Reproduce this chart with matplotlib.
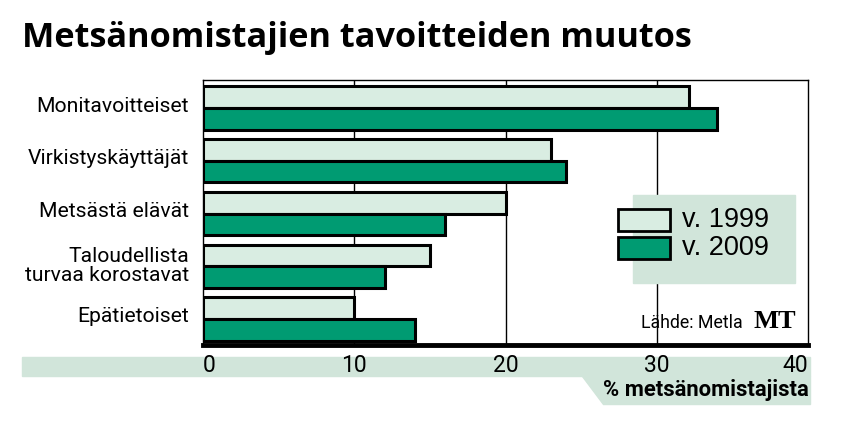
import matplotlib
matplotlib.use("Agg")
import matplotlib.pyplot as plt
from matplotlib.patches import Polygon, Rectangle
import numpy as np

categories = ["Monitavoitteiset", "Virkistyskäyttäjät", "Metsästä elävät",
              "Taloudellista\nturvaa korostavat", "Epätietoiset"]
v1999 = [32.1, 23.0, 20.0, 15.0, 10.0]
v2009 = [34.0, 24.0, 16.0, 12.0, 14.0]
xticks = [0, 10, 20, 30, 40]
series_labels = ["v. 1999", "v. 2009"]

light = "#d9ede2"
dark = "#009b72"
band = "#d1e5da"
narrow = ["Roboto", "DejaVu Sans"]

fig = plt.figure(figsize=(8.61, 4.22), dpi=100)
W, H = 861, 422


def fx(px):
    return px / W


def fy(py):
    return 1 - py / H


ax = fig.add_axes([fx(203), fy(345), fx(808) - fx(203), fy(80) - fy(345)])
y = np.arange(len(categories))
h = 0.41
ax.barh(y - h / 2, v1999, height=h, color=light, edgecolor="black", linewidth=2.2, zorder=3)
ax.barh(y + h / 2, v2009, height=h, color=dark, edgecolor="black", linewidth=2.2, zorder=3)
ax.set_xlim(0, 40)
ax.set_ylim(4.49, -0.53)
for t in xticks[1:-1]:
    ax.axvline(t, color="black", linewidth=1.0, zorder=1)
ax.set_xticks([])
ax.set_yticks([])
for s in ["left", "right", "top"]:
    ax.spines[s].set_linewidth(1.0)
ax.spines["bottom"].set_linewidth(3.5)

# category labels
for i, c in enumerate(categories):
    yp = 106 + i * 52.75 if i != 3 else 266
    fig.text(fx(189), fy(yp), c, ha="right", va="center",
             fontsize=15.2, family=narrow, linespacing=1.0)

# title
fig.text(fx(22), fy(38), "Metsänomistajien tavoitteiden muutos", fontsize=24.7,
         fontweight="bold", family=["Open Sans", "DejaVu Sans"], va="center", ha="left")

# axis band
fig.patches.append(Rectangle((fx(22), fy(376)), fx(810) - fx(22), fy(357) - fy(376),
                             transform=fig.transFigure, color=band, zorder=0))
fig.patches.append(Polygon([(fx(582), fy(376)), (fx(810), fy(376)), (fx(810), fy(404)),
                            (fx(603), fy(404))], closed=True, transform=fig.transFigure,
                           color=band, zorder=0))
for t in xticks:
    xp = 203 + t * (808 - 203) / 40
    ha = "center"
    if t == xticks[0]:
        ha = "left"
    elif t == xticks[-1]:
        ha = "right"
    fig.text(fx(xp), fy(366), str(t), ha=ha, va="center", fontsize=16.5, family=narrow)
fig.text(fx(809), fy(390), "% metsänomistajista", ha="right", va="center", fontsize=15.8,
         fontweight="bold", family=narrow)

# legend box
fig.patches.append(Rectangle((fx(633), fy(283)), fx(795) - fx(633), fy(195) - fy(283),
                             transform=fig.transFigure, color=band, zorder=5))
for k, (col, lab) in enumerate(zip([light, dark], series_labels)):
    top = 209 + k * 28
    fig.patches.append(Rectangle((fx(618), fy(top + 22)), fx(670) - fx(618), fy(top) - fy(top + 22),
                                 transform=fig.transFigure, facecolor=col, edgecolor="black",
                                 linewidth=2.0, zorder=6))
    fig.text(fx(682), fy(top + 11), lab, ha="left", va="center", fontsize=19.5,
             family=["Liberation Sans", "DejaVu Sans"], zorder=7)

fig.text(fx(641), fy(323), "Lähde: Metla", ha="left", va="center", fontsize=12.8, family=narrow)
fig.text(fx(796), fy(321), "MT", ha="right", va="center", fontsize=19, fontweight="bold",
         family=["Liberation Serif", "DejaVu Serif"])

fig.savefig("out.png", dpi=100)
